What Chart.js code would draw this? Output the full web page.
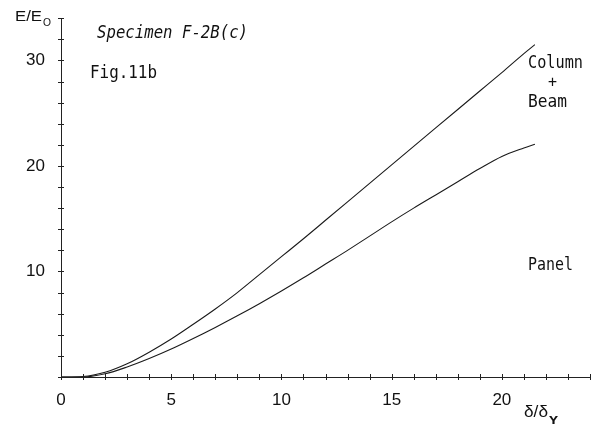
<!DOCTYPE html>
<html>
<head>
<meta charset="utf-8">
<script src="https://cdn.jsdelivr.net/npm/chart.js@4/dist/chart.umd.min.js"></script>
<style>
  html, body { margin: 0; padding: 0; background: #fff; }
  #wrap { width: 600px; height: 425px; position: relative; }
</style>
</head>
<body>
<div id="wrap"><canvas id="c" width="600" height="425"></canvas></div>
<script>
// Dimensionless displacement δ/δY
const deltaRatio = [0, 1, 2, 3, 4, 5, 6, 7, 8, 9, 10, 11, 12, 13, 14, 15, 16, 17, 18, 19, 20, 21, 21.5];
// Accumulated energy E/E0 of column + beam
const columnBeam = [0, 0.05, 0.45, 1.25, 2.35, 3.6, 5.0, 6.45, 8.0, 9.7, 11.4, 13.1, 14.85, 16.6, 18.35, 20.1, 21.85, 23.6, 25.35, 27.1, 28.85, 30.65, 31.5];
// Accumulated energy E/E0 of the panel zone
const panel = [0, 0, 0.3, 0.95, 1.75, 2.65, 3.65, 4.7, 5.8, 6.95, 8.15, 9.4, 10.7, 12.0, 13.35, 14.7, 16.0, 17.25, 18.5, 19.75, 20.9, 21.7, 22.05];

// Axis ticks and labelled values
const xTickLabels = [0, 5, 10, 15, 20];
const yTickLabels = [10, 20, 30];
const xMax = 24, yMax = 34;

const toPoints = ys => deltaRatio.map((x, i) => ({ x, y: ys[i] }));

// Cross-shaped tick marks on both axes
const crossTicks = {
  id: 'crossTicks',
  afterDraw(chart) {
    const { ctx, scales: { x, y } } = chart;
    const x0 = x.getPixelForValue(0), y0 = y.getPixelForValue(0);
    ctx.save();
    ctx.strokeStyle = '#222';
    ctx.lineWidth = 1;
    ctx.beginPath();
    x.ticks.forEach(t => {
      const px = Math.round(x.getPixelForValue(t.value)) + 0.5;
      ctx.moveTo(px, y0 - 3); ctx.lineTo(px, y0 + 3);
    });
    y.ticks.forEach(t => {
      const py = Math.round(y.getPixelForValue(t.value)) + 0.5;
      ctx.moveTo(x0 - 3, py); ctx.lineTo(x0 + 3, py);
    });
    ctx.stroke();
    ctx.restore();
  }
};

// Text drawn with a target width (narrow typewriter look)
function drawText(ctx, text, x, y, font, width) {
  ctx.save();
  ctx.font = font;
  const w = ctx.measureText(text).width;
  const sx = width ? width / w : 1;
  ctx.translate(x, y);
  ctx.scale(sx, 1);
  ctx.fillText(text, 0, 0);
  ctx.restore();
}

const annotations = {
  id: 'annotations',
  afterDraw(chart) {
    const ctx = chart.ctx;
    ctx.save();
    ctx.fillStyle = '#111';
    ctx.textBaseline = 'alphabetic';
    const mono = '"DejaVu Sans Mono", "Liberation Mono", monospace';
    // axis titles
    drawText(ctx, 'E/E', 15, 21, '15px "Liberation Sans", Arial, sans-serif', 27);
    drawText(ctx, 'O', 43, 26, '11px "Liberation Sans", Arial, sans-serif', 8);
    drawText(ctx, 'δ/δ', 524, 417, '17px "Liberation Sans", Arial, sans-serif', 24);
    drawText(ctx, 'Y', 549, 424, 'bold 11px ' + mono, 9);
    // figure texts
    drawText(ctx, 'Specimen F-2B(c)', 97, 38, 'oblique 17px ' + mono, 151);
    drawText(ctx, 'Fig.11b', 90, 78, '17px ' + mono, 67);
    drawText(ctx, 'Column', 528, 68, '17px ' + mono, 55);
    drawText(ctx, '+', 548, 87, '15px ' + mono, 9);
    drawText(ctx, 'Beam', 528, 107, '17px ' + mono, 39);
    drawText(ctx, 'Panel', 528, 270, '17px ' + mono, 45);
    ctx.restore();
  }
};

const lineStyle = {
  borderColor: '#1a1a1a',
  borderWidth: 1.1,
  pointRadius: 0,
  fill: false,
  cubicInterpolationMode: 'monotone'
};

new Chart(document.getElementById('c'), {
  type: 'line',
  data: {
    datasets: [
      { label: 'Column + Beam', data: toPoints(columnBeam), ...lineStyle },
      { label: 'Panel', data: toPoints(panel), ...lineStyle }
    ]
  },
  options: {
    responsive: false,
    animation: false,
    layout: { padding: { left: 0, right: 10, top: 2, bottom: 0 } },
    plugins: { legend: { display: false }, tooltip: { enabled: false } },
    scales: {
      x: {
        type: 'linear',
        min: 0, max: xMax,
        grid: { display: false },
        border: { display: true, color: '#222', width: 1 },
        ticks: {
          stepSize: 1, autoSkip: false, maxRotation: 0, padding: 5,
          color: '#111',
          font: { family: '"Liberation Sans", Arial, sans-serif', size: 17 },
          callback: v => xTickLabels.includes(v) ? String(v) : ''
        },
        afterFit: s => { s.height = 48; }
      },
      y: {
        type: 'linear',
        min: 0, max: yMax,
        grid: { display: false },
        border: { display: true, color: '#222', width: 1 },
        ticks: {
          stepSize: 2, autoSkip: false, padding: 8,
          color: '#111',
          font: { family: '"Liberation Sans", Arial, sans-serif', size: 17 },
          callback: v => yTickLabels.includes(v) ? String(v) : ''
        },
        afterFit: s => { s.width = 61; }
      }
    }
  },
  plugins: [crossTicks, annotations]
});
</script>
</body>
</html>
